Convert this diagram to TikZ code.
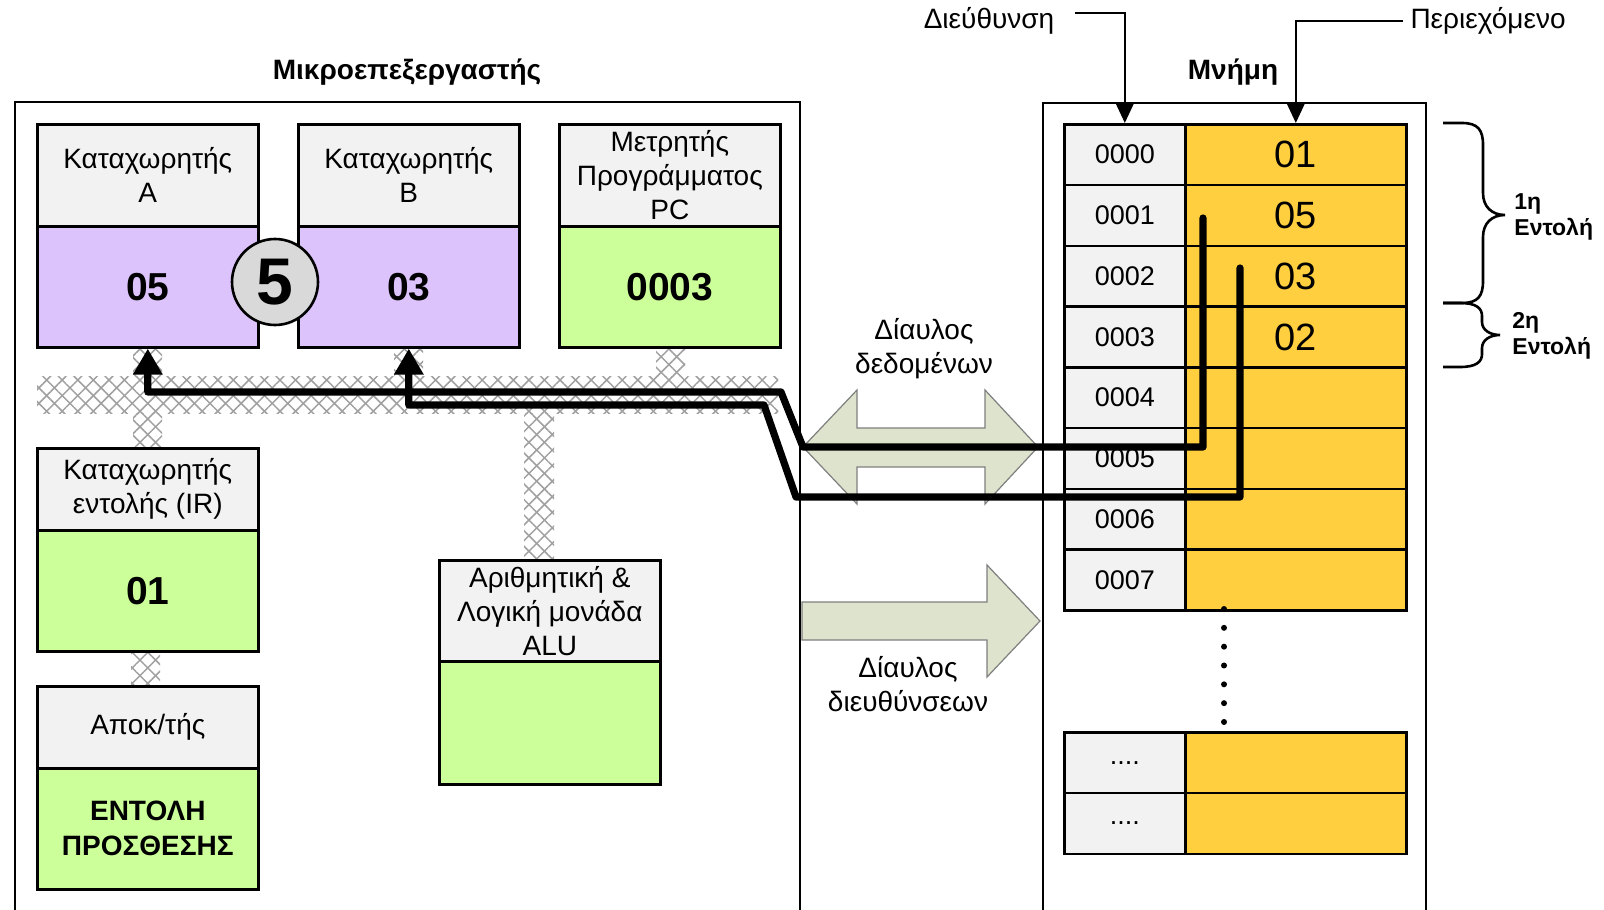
\documentclass[tikz,border=0pt]{standalone}
\usepackage{fontspec}
\setmainfont{Liberation Sans}
\usetikzlibrary{arrows.meta,patterns.meta,calc}
\definecolor{hdr}{HTML}{F2F2F2}
\definecolor{purp}{HTML}{DDC3FC}
\definecolor{lgreen}{HTML}{CCFF99}
\definecolor{memy}{HTML}{FFCF40}
\definecolor{busfill}{HTML}{DDE3CD}
\definecolor{busline}{HTML}{7F7F7F}
\definecolor{circ}{HTML}{D9D9D9}
\definecolor{hatchc}{HTML}{A0A0A0}
\newcommand\xhatch[2]{%
  \fill[pattern={Lines[angle=45,distance=5.5pt,line width=0.75pt]},pattern color=hatchc] #1 rectangle #2;
  \fill[pattern={Lines[angle=-45,distance=5.5pt,line width=0.75pt]},pattern color=hatchc] #1 rectangle #2;}
\begin{document}
\begin{tikzpicture}[x=0.5pt,y=-0.5pt,
  cell/.style={draw, line width=1.3pt, inner sep=0pt, anchor=north west, align=center, font=\fontsize{14}{17}\selectfont},
  hdrcell/.style={cell, fill=hdr},
  valcell/.style={cell, fill=#1, font=\fontsize{19.5}{22}\selectfont\bfseries},
  regw/.style={minimum width=110.5pt},
  addrcell/.style={cell, fill=hdr, minimum width=60.5pt, minimum height=30.375pt, font=\fontsize{13.5}{16}\selectfont},
  contcell/.style={cell, fill=memy, minimum width=110.5pt, minimum height=30.375pt, font=\fontsize{19}{22}\selectfont},
  outerline/.style={line width=1.3pt},
  flow/.style={line width=3.6pt, line join=round, line cap=round, -{Triangle[length=13pt,width=14pt]}},
  ptr/.style={line width=1.2pt, -{Triangle[length=10pt,width=9pt]}},
  bus/.style={fill=busfill, draw=busline, line width=0.6pt},
  lbl/.style={font=\fontsize{14}{17}\selectfont, align=center},
  ttl/.style={font=\fontsize{14}{17}\selectfont\bfseries},
  bracelbl/.style={font=\fontsize{11.5}{13}\selectfont\bfseries, align=left, anchor=west, inner sep=0pt},
  brc/.style={line width=1.3pt}
]
\fill[white] (0,0) rectangle (1604,909);
\useasboundingbox (0,0) rectangle (1604,909);

% outer boxes
\node[inner sep=0pt, anchor=north west, minimum width=392pt, minimum height=403.5pt] (cpu) at (15,102) {};
\draw[outerline] (cpu.south west) -- (cpu.north west) -- (cpu.north east) -- (cpu.south east);
\node[inner sep=0pt, anchor=north west, minimum width=191pt, minimum height=403pt] (mem) at (1043,103) {};
\draw[outerline] (mem.south west) -- (mem.north west) -- (mem.north east) -- (mem.south east);
\node[ttl] (cputitle) at (407,72) {Μικροεπεξεργαστής};
\node[ttl] (memtitle) at (1233,72) {Μνήμη};

% internal bus hatching
\xhatch{(37,376)}{(778,413)}
\xhatch{(133,346)}{(162,376)}
\xhatch{(133,413)}{(162,447)}
\xhatch{(394,346)}{(423,376)}
\xhatch{(656,346)}{(685,376)}
\xhatch{(524,413)}{(554,559)}
\xhatch{(131,650)}{(160,685)}

% registers
\node[hdrcell, regw, minimum height=51pt] (regAh) at (36,123) {Καταχωρητής\\A};
\node[valcell=purp, regw, minimum height=60.5pt] (regAv) at (36,225) {05};
\node[hdrcell, regw, minimum height=51pt] (regBh) at (297,123) {Καταχωρητής\\B};
\node[valcell=purp, regw, minimum height=60.5pt] (regBv) at (297,225) {03};
\node[hdrcell, regw, minimum height=51pt] (pch) at (558,123) {Μετρητής\\Προγράμματος\\PC};
\node[valcell=lgreen, regw, minimum height=60.5pt] (pcv) at (558,225) {0003};
\node[circle, draw, line width=1.3pt, fill=circ, minimum size=43pt, inner sep=0pt, font=\fontsize{33}{33}\selectfont\bfseries] (five) at (275,282) {5};

\node[hdrcell, regw, minimum height=41pt] (irh) at (36,447) {Καταχωρητής\\εντολής (IR)};
\node[valcell=lgreen, regw, minimum height=60.5pt] (irv) at (36,529) {01};
\node[hdrcell, regw, minimum height=41pt] (dech) at (36,685) {Αποκ/τής};
\node[valcell=lgreen, regw, minimum height=60.5pt, font=\fontsize{14}{17.5}\selectfont\bfseries] (decv) at (36,767) {ΕΝΤΟΛΗ\\ΠΡΟΣΘΕΣΗΣ};
\node[hdrcell, regw, minimum height=50.5pt] (aluh) at (438,559) {Αριθμητική \&\\Λογική μονάδα\\ALU};
\node[valcell=lgreen, regw, minimum height=61.5pt] (aluv) at (438,660) {};

% memory
\foreach \i/\v in {0/01,1/05,2/03,3/02,4/,5/,6/,7/} {
  \node[addrcell] (ma\i) at (1063,{123+60.75*\i}) {000\i};
  \node[contcell] (mc\i) at (1184,{123+60.75*\i}) {\v};
}
\node[addrcell] (mx0) at (1063,731) {....};
\node[contcell] (my0) at (1184,731) {};
\node[addrcell] (mx1) at (1063,791.75) {....};
\node[contcell] (my1) at (1184,791.75) {};
\foreach \k in {0,...,6} \fill (1224,{609+18.83*\k}) circle (1.5pt);

% top labels
\node[lbl] (lbladdr) at (989,21) {Διεύθυνση};
\node[lbl] (lblcont) at (1488,21) {Περιεχόμενο};
\draw[ptr] ($(lbladdr.east)+(14,-8)$) -| (ma0.north);
\draw[ptr] (lblcont.west) -| (mc0.north);

% braces
\draw[brc] (1443,123) -- (1462,123) .. controls (1478,123) and (1483,130) .. (1483,145) -- (1483,193)
  .. controls (1483,207) and (1492,215) .. (1505,215) .. controls (1492,215) and (1483,223) .. (1483,237)
  -- (1483,281) .. controls (1483,296) and (1478,303) .. (1462,303) -- (1443,303);
\draw[brc] (1443,303) -- (1460,303) .. controls (1476,303) and (1482,308) .. (1482,316) -- (1482,322)
  .. controls (1482,330) and (1490,335) .. (1500,335) .. controls (1490,335) and (1482,340) .. (1482,348)
  -- (1482,354) .. controls (1482,362) and (1476,367) .. (1460,367) -- (1443,367);
\node[bracelbl] (ins1) at (1514,217) {1η\\Εντολή};
\node[bracelbl] (ins2) at (1512,336) {2η\\Εντολή};

% buses
\draw[bus] (803,447) -- (857,390) -- (857,428) -- (985,428) -- (985,390) -- (1038,447) -- (985,504) -- (985,467) -- (857,467) -- (857,504) -- cycle;
\draw[bus] (802,602) -- (987,602) -- (987,565) -- (1040,621) -- (987,677) -- (987,640) -- (802,640) -- cycle;
\node[lbl] (dbuslbl) at (924,349) {Δίαυλος\\δεδομένων};
\node[lbl] (abuslbl) at (908,684) {Δίαυλος\\διευθύνσεων};

% data flow paths
\coordinate (p1s) at (1203,218);
\coordinate (p1a) at (803,447);
\coordinate (p1b) at (781,392);
\coordinate (p2s) at (1240,268);
\coordinate (p2a) at (796,497);
\coordinate (p2b) at (764,405);
\draw[flow] (p1s) |- (p1a) -- (p1b) -| (regAv.south);
\draw[flow] (p2s) |- (p2a) -- (p2b) -| (regBv.south);
\end{tikzpicture}
\end{document}
